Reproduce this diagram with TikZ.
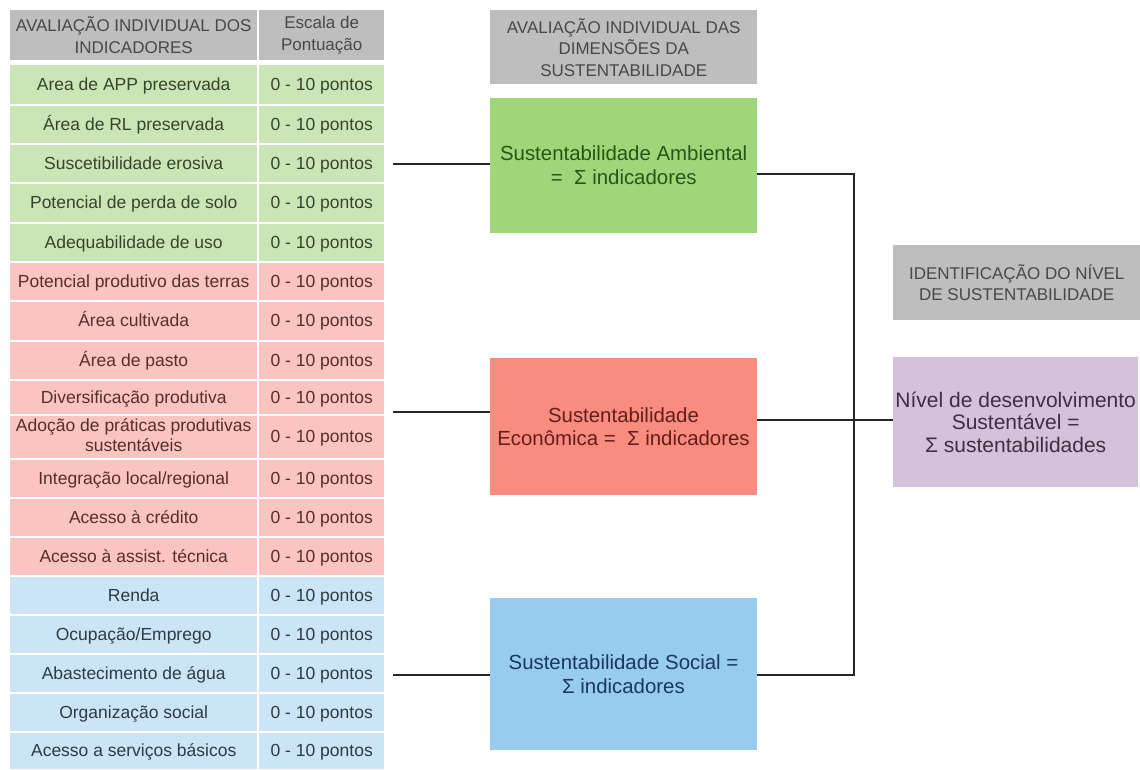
\documentclass[tikz,border=0pt]{standalone}
\usepackage{fontspec}
\setmainfont{Liberation Sans}
\usepackage{xcolor}
\usetikzlibrary{positioning}

\definecolor{hdrgray}{RGB}{190,190,190}
\definecolor{hdrtxt}{RGB}{72,72,72}
\definecolor{rowamb}{RGB}{203,230,182}
\definecolor{roweco}{RGB}{250,196,192}
\definecolor{rowsoc}{RGB}{204,229,246}
\definecolor{txtamb}{RGB}{55,68,45}
\definecolor{txteco}{RGB}{88,45,45}
\definecolor{txtsoc}{RGB}{45,58,72}
\definecolor{boxamb}{RGB}{160,214,122}
\definecolor{boxeco}{RGB}{248,140,126}
\definecolor{boxsoc}{RGB}{152,204,238}
\definecolor{boxniv}{RGB}{213,193,219}
\definecolor{inkamb}{RGB}{40,85,20}
\definecolor{inkeco}{RGB}{100,30,25}
\definecolor{inksoc}{RGB}{25,55,95}
\definecolor{inkniv}{RGB}{60,48,66}

\begin{document}
\begin{tikzpicture}[
    x=1pt, y=-1pt,
    hdr/.style={rectangle, fill=hdrgray, text=hdrtxt, inner sep=0pt, align=center,
                anchor=north west, font=\fontsize{17}{21.5}\selectfont},
    ind/.style={rectangle, inner sep=0pt, align=center, anchor=west,
                minimum width=247pt, font=\fontsize{17.5}{20}\selectfont,
                execute at begin node=\vphantom{Ág}},
    pts/.style={ind, minimum width=125pt},
    dim/.style={rectangle, inner sep=0pt, align=center, minimum width=267pt,
                font=\fontsize{20.4}{23.5}\selectfont},
    conn/.style={draw=black!85, line width=1.5pt}
]
\useasboundingbox (0,0) rectangle (1140,769);

% tabela de indicadores
\node[hdr, minimum width=247pt, minimum height=50pt] (hdrind) at (10,10)
    {AVALIAÇÃO INDIVIDUAL DOS\\INDICADORES};
\node[hdr, minimum width=125pt, minimum height=50pt] (hdrpts) at (259,10)
    {Escala de\\Pontuação};

\foreach \i/\ya/\yb/\g/\txt in {
    1/65/104/amb/Area de APP preservada,
    2/106/143/amb/Área de RL preservada,
    3/145/182/amb/Suscetibilidade erosiva,
    4/184/222/amb/Potencial de perda de solo,
    5/224/261/amb/Adequabilidade de uso,
    6/263/300/eco/Potencial produtivo das terras,
    7/302/340/eco/Área cultivada,
    8/342/379/eco/Área de pasto,
    9/381/414/eco/Diversificação produtiva,
    10/416/458/eco/{Adoção de práticas produtivas\\sustentáveis},
    11/460/497/eco/{Integração local/regional},
    12/499/536/eco/Acesso à crédito,
    13/538/575/eco/Acesso à assist. técnica,
    14/577/614/soc/Renda,
    15/616/653/soc/{Ocupação/Emprego},
    16/655/692/soc/Abastecimento de água,
    17/694/731/soc/Organização social,
    18/733/769/soc/Acesso a serviços básicos}{
  \node[ind, fill=row\g, text=txt\g, minimum height={(\yb-\ya)*1pt}]
      (ind\i) at (10,{(\ya+\yb)/2}) {\txt};
  \node[pts, fill=row\g, text=txt\g, minimum height={(\yb-\ya)*1pt}]
      (pts\i) at (259,{(\ya+\yb)/2}) {0 - 10 pontos};
}

% dimensoes
\node[hdr, minimum width=267pt, minimum height=74pt] (dimhdr) at (490,10)
    {AVALIAÇÃO INDIVIDUAL DAS\\DIMENSÕES DA\\SUSTENTABILIDADE};
\node[dim, fill=boxamb, text=inkamb, minimum height=135pt, below=13pt of dimhdr] (amb)
    {Sustentabilidade Ambiental\\= \ Σ indicadores};
\node[dim, fill=boxeco, text=inkeco, minimum height=137pt] (eco) at (623.5,426.5)
    {Sustentabilidade\\Econômica = \ Σ indicadores};
\node[dim, fill=boxsoc, text=inksoc, minimum height=152pt] (soc) at (623.5,674)
    {Sustentabilidade Social =\\Σ indicadores};

% nivel
\node[hdr, minimum width=247pt, minimum height=75pt] (nivhdr) at (893,245)
    {IDENTIFICAÇÃO DO NÍVEL\\DE SUSTENTABILIDADE};
\node[rectangle, fill=boxniv, text=inkniv, inner sep=0pt, align=center,
      minimum width=245pt, minimum height=130pt, anchor=north west,
      font=\fontsize{21}{22.5}\selectfont] (niv) at (893,357)
    {Nível de desenvolvimento\\Sustentável =\\Σ sustentabilidades};

% ligacoes
\coordinate (inamb) at (393,164);
\coordinate (ineco) at (393,412);
\coordinate (insoc) at (393,675);
\draw[conn] (inamb) -- (inamb -| amb.west);
\draw[conn] (ineco) -- (ineco -| eco.west);
\draw[conn] (insoc) -- (insoc -| soc.west);

\coordinate (busamb) at (854,174);
\coordinate (buseco) at (854,420);
\coordinate (bussoc) at (854,675);
\draw[conn] (busamb -| amb.east) -- (busamb) -- (bussoc) -- (bussoc -| soc.east);
\draw[conn] (buseco -| eco.east) -- (buseco) -- (buseco -| niv.west);
\end{tikzpicture}
\end{document}
